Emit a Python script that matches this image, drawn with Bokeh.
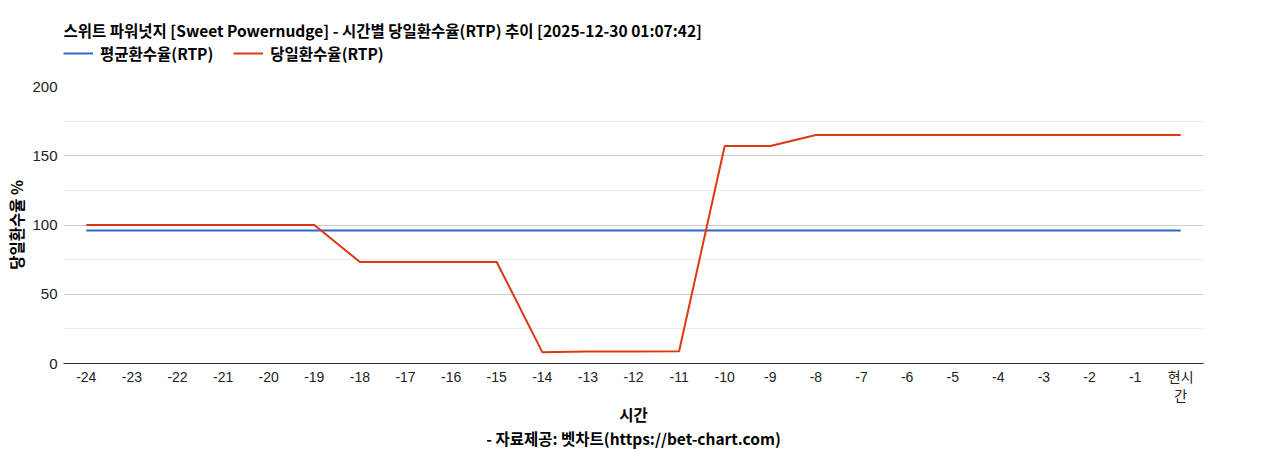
from bokeh.plotting import figure
from bokeh.layouts import column
from bokeh.models import (Range1d, FixedTicker, Legend, LegendItem, Label, Title, ColumnDataSource)
from bokeh.embed import file_html
from bokeh.resources import INLINE

hours = list(range(-24, 1))
tick_labels = {h: str(h) for h in hours}
tick_labels[0] = "현시\n간"
avg_rtp = [96.0] * 25
daily_rtp = [100, 100, 100, 100, 100, 100,
             73.3, 73.3, 73.3, 73.3,
             8.2, 8.6, 8.7, 8.9,
             157, 157,
             165, 165, 165, 165, 165, 165, 165, 165, 165]
series_names = ["평균환수율(RTP)", "당일환수율(RTP)"]
series_colors = ["#3366cc", "#dc3912"]
title_text = "스위트 파워넛지 [Sweet Powernudge] - 시간별 당일환수율(RTP) 추이 [2025-12-30 01:07:42]"
credit_text = "- 자료제공: 벳차트(https://bet-chart.com)"

FONT = "Liberation Sans, Noto Sans CJK KR"
KFONT = "Noto Sans CJK KR"
KSIZE = "15.5px"
W = 1252
TOP_H = 78

src = ColumnDataSource(dict(x=hours, avg=avg_rtp, daily=daily_rtp))

# ---- header figure: title + legend ----
top = figure(width=W, height=TOP_H, output_backend="svg", toolbar_location=None,
             x_axis_type=None, y_axis_type=None,
             x_range=Range1d(-24.5, 0.5), y_range=Range1d(1000, 1001),
             min_border=0)
top.outline_line_color = None
top.xgrid.visible = False
top.ygrid.visible = False

proxies = [top.line("x", "avg", source=src, line_color=series_colors[0], line_width=2),
           top.line("x", "daily", source=src, line_color=series_colors[1], line_width=2)]
legend = Legend(items=[LegendItem(label=n, renderers=[r]) for n, r in zip(series_names, proxies)],
                orientation="horizontal", location=(0, 14),
                label_text_font=KFONT, label_text_font_size=KSIZE, label_text_font_style="bold",
                label_text_color="#000000",
                glyph_width=30, glyph_height=20, label_height=20, spacing=20, padding=0, margin=0,
                label_standoff=7,
                border_line_color=None, background_fill_alpha=0)
top.add_layout(legend)
top.add_layout(Label(x=0, y=49, x_units="screen", y_units="screen", text=title_text,
                     text_font=KFONT, text_font_size=KSIZE, text_font_style="bold",
                     text_baseline="middle", text_align="left", text_color="#000000"))

# ---- main chart ----
p = figure(width=W, height=450 - TOP_H, output_backend="svg", toolbar_location=None,
           x_range=Range1d(-24.5, 0.5), y_range=Range1d(0, 200),
           min_border_left=63, min_border_right=49, min_border_bottom=87, min_border_top=8)
p.outline_line_color = None

p.line("x", "avg", source=src, line_color=series_colors[0], line_width=2)
p.line("x", "daily", source=src, line_color=series_colors[1], line_width=2)

xa = p.xaxis[0]
xa.ticker = FixedTicker(ticks=hours)
xa.major_label_overrides = tick_labels
xa.major_tick_line_color = None
xa.minor_tick_line_color = None
xa.major_tick_out = 0
xa.minor_tick_out = 0
xa.major_label_standoff = 5
xa.axis_line_color = "#333333"
xa.major_label_text_font = FONT
xa.major_label_text_font_size = "14px"
xa.major_label_text_color = "#222222"
xa.axis_label = "시간"
xa.axis_label_text_font = KFONT
xa.axis_label_text_font_size = KSIZE
xa.axis_label_text_font_style = "bold"
xa.axis_label_text_color = "#000000"
xa.axis_label_standoff = -4

ya = p.yaxis[0]
ya.ticker = FixedTicker(ticks=[0, 50, 100, 150, 200], minor_ticks=[25, 75, 125, 175])
ya.axis_line_color = None
ya.major_tick_line_color = None
ya.minor_tick_line_color = None
ya.major_tick_out = 0
ya.minor_tick_out = 0
ya.major_label_standoff = 6
ya.major_label_text_font = FONT
ya.major_label_text_font_size = "15px"
ya.major_label_text_color = "#222222"
ya.axis_label = "당일환수율 %"
ya.axis_label_text_font = KFONT
ya.axis_label_text_font_size = KSIZE
ya.axis_label_text_font_style = "bold"
ya.axis_label_text_color = "#000000"
ya.axis_label_standoff = 2

p.xgrid.grid_line_color = None
p.ygrid.grid_line_color = "#cccccc"
p.ygrid.minor_grid_line_color = "#ebebeb"

credit = Title(text=credit_text, align="center", text_font=KFONT, text_font_size=KSIZE,
               text_font_style="bold", text_color="#000000")
try:
    credit.standoff = -5
except AttributeError:
    pass
p.add_layout(credit, "below")

layout = column(top, p, spacing=0)
open("out.html", "w").write(file_html(layout, INLINE))
